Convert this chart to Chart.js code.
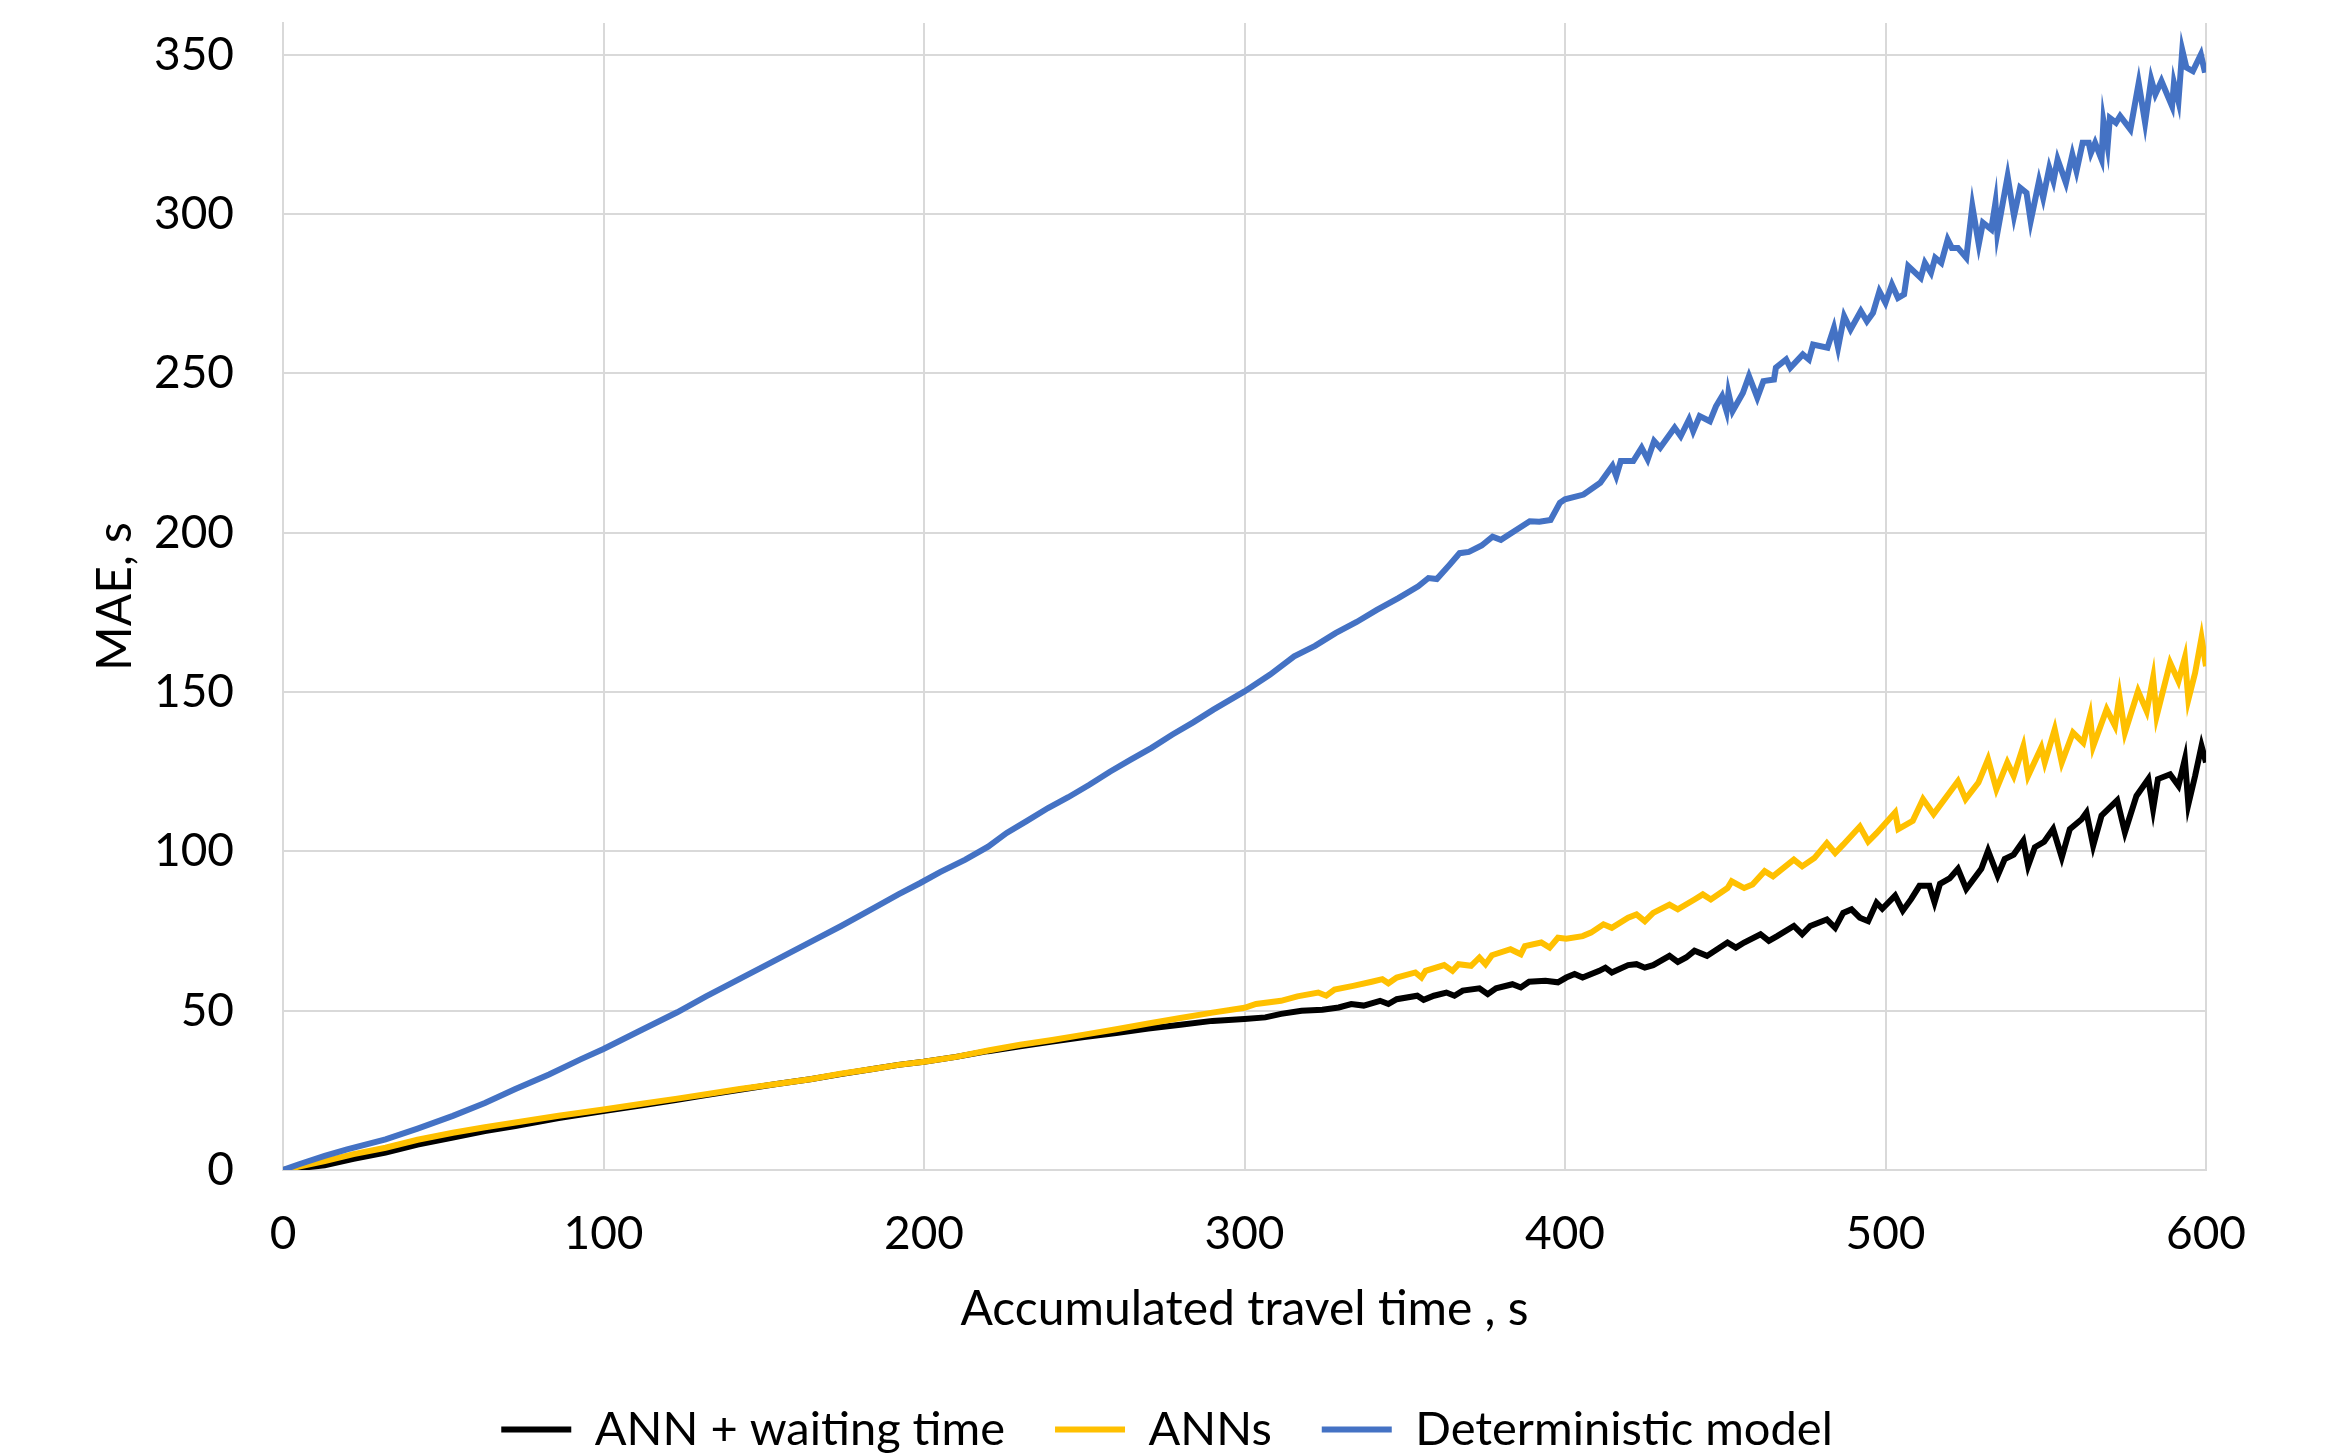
<!DOCTYPE html>
<html>
<head>
<meta charset="utf-8">
<script src="https://cdn.jsdelivr.net/npm/chart.js@4/dist/chart.umd.min.js"></script>
<style>
  html, body { margin: 0; padding: 0; background: #fff; }
  canvas { display: block; }
</style>
</head>
<body>
<canvas id="chart" width="2334" height="1455"></canvas>
<script>
// ==============================
// Data
// ==============================
const xTicks = [0, 100, 200, 300, 400, 500, 600];
const yTicks = [0, 50, 100, 150, 200, 250, 300, 350];
const seriesNames = ["ANN + waiting time", "ANNs", "Deterministic model"];

// ANN + waiting time (black)
const blackX = [
  0, 13, 22, 32, 42, 53, 63, 72.5, 86, 100,
  112, 123, 132, 142.5, 154, 164.5, 174, 184, 192, 200,
  210, 220, 230, 240, 250, 260, 270, 280, 290, 300,
  306.5, 311.4, 317.8, 324.3, 329.4, 333.3, 337.2, 342.3, 344.9, 347.5,
  353.9, 355.9, 359.1, 363, 365.5, 368.1, 373.3, 375.9, 378.5, 383.6,
  386.2, 388.8, 393.9, 397.8, 400.4, 403, 405.5, 410.7, 412.6, 414.6,
  419.7, 422.3, 424.9, 427.5, 432.6, 435.2, 437.8, 440.4, 444.3, 450.7,
  453.3, 455.9, 461, 463.6, 466.2, 471.4, 474, 476.5, 481.7, 484.3,
  486.8, 489.4, 492, 494.6, 497.2, 499, 503,
  505.4, 508, 510.6, 513.7, 515.3, 517, 520, 522.6, 525.2, 529.9,
  532, 535, 537.2, 540, 543, 544.5, 546.6, 549.5, 552.3, 555,
  557.5, 561.2, 562.7, 564.8, 567.4, 572.3, 574.7, 578.3, 582, 583.5,
  585, 588.8, 591.4, 593.4, 594.5, 596.6, 598.6, 600
];
const blackY = [
  0, 1.5, 3.5, 5.5, 8, 10.2, 12.2, 13.8, 16.3, 18.5,
  20.3, 22, 23.5, 25.2, 27, 28.5, 30.1, 31.7, 33, 34,
  35.5, 37.3, 38.8, 40.3, 41.7, 43, 44.4, 45.6, 46.8, 47.4,
  47.9, 49, 50, 50.3, 51, 52.1, 51.6, 53.1, 52.1, 53.6,
  54.7, 53.4, 54.7, 55.7, 54.7, 56.3, 57, 55.2, 57, 58.3,
  57.3, 59.1, 59.4, 58.9, 60.4, 61.5, 60.4, 62.5, 63.5, 62,
  64.3, 64.6, 63.5, 64.3, 67.2, 65.3, 66.7, 68.8, 67.2, 71.4,
  69.8, 71.4, 74, 71.9, 73.4, 76.6, 74, 76.6, 78.6, 76,
  80.7, 81.8, 79.2, 78.1, 83.9, 82, 86.1,
  81.4, 85, 89.2, 89.2, 84, 89.8, 91.5, 94.5, 88.2, 94.5,
  100.2, 92.4, 97.6, 99, 103.3, 95.5, 101.3, 103, 107, 98.1,
  107, 110.1, 112.2, 101.8, 111.2, 116, 106, 117.4, 122.7, 113.3,
  122.7, 124.2, 120.6, 128.9, 114.8, 123.7, 133.1, 127.9
];

// ANNs (yellow)
const yellowX = [
  0, 13, 22, 32, 42, 53, 63, 72.5, 86, 100,
  112, 123, 132, 142.5, 154, 164.5, 174, 184, 192, 200,
  210, 220, 230, 240, 250, 260, 270, 280, 290, 300,
  303.6, 311.4, 316.5, 323, 325.5, 328.1, 333.9, 339.7, 343, 344.9,
  347.5, 353.3, 355.2, 356.5, 362.3, 364.9, 366.8, 370.7, 373.3, 375.2,
  377.2, 383, 386.2, 387.5, 392.6, 395.2, 397.8, 400.4, 405.5, 408.1,
  412, 414.6, 419.7, 422.3, 424.9, 427.5, 432.6, 435.2, 440.4, 443,
  445.5, 450.7, 452, 455.9, 458.5, 462.3, 464.9, 467.5, 471.4, 474,
  477.8, 481.7, 484.3, 486.8, 492, 494.6, 497.2,
  503, 504, 508.5, 511.7, 515, 520, 522.6, 525, 529, 532,
  534.6, 538, 540, 543, 544.5, 548.6, 549.7, 552.8, 555, 558.5,
  561.7, 563.8, 564.8, 569, 571.6, 573, 574.7, 578.8, 581.5, 583.5,
  584.6, 588.8, 591.4, 593.4, 594.5, 596.6, 598.6, 600
];
const yellowY = [
  0, 2.8, 5, 7, 9.5, 11.7, 13.4, 14.9, 17, 19,
  20.8, 22.4, 23.8, 25.4, 27, 28.5, 30.2, 31.7, 33, 34,
  35.5, 37.5, 39.3, 40.8, 42.5, 44.2, 46, 47.7, 49.4, 50.9,
  52.1, 53.1, 54.5, 55.7, 54.7, 56.6, 57.8, 59.1, 59.9, 58.6,
  60.4, 62, 60.4, 62.5, 64.3, 62.5, 64.6, 64.1, 66.7, 64.6,
  67.4, 69.3, 67.7, 70.3, 71.4, 69.8, 72.9, 72.6, 73.4, 74.5,
  77.1, 76, 79.2, 80.2, 78.1, 80.7, 83.3, 81.8, 84.9, 86.5,
  84.9, 88.5, 90.6, 88.5, 89.6, 93.8, 92.2, 94.3, 97.4, 95.3,
  97.9, 102.6, 99.5, 102.1, 107.8, 103.1, 105.7,
  112.2, 107, 109.6, 116.4, 111.7, 118.5, 122, 116.4, 121.6, 128.9,
  119.5, 127.9, 123.7, 133, 123.7, 132.6, 127.9, 138.3, 127.9, 137.3,
  134.1, 142.5, 133, 144.6, 139.4, 148.7, 137.3, 150.3, 144, 154.5,
  142.5, 159.2, 153.4, 160.8, 147.7, 156, 167, 158.1
];

// Deterministic model (blue)
const blueX = [
  0, 5, 13, 20, 32, 42, 53, 63, 72.5, 83,
  93, 100, 112, 123, 132, 142.5, 153, 164.5, 174, 184,
  192, 198.7, 205, 212.9, 220, 225.8, 232, 238.7, 245, 251.6,
  258, 264.5, 271, 277.4, 284, 290.3, 300, 308, 315.5, 322,
  328.4, 335, 341.3, 348, 354.2, 357.4, 360, 364, 367.1, 370,
  374, 377.4, 380, 385, 389, 392, 395.5, 398.4, 400, 405.8,
  411, 414.8, 416, 417.4, 421.3, 423.9, 425.8, 427.8, 429.7, 434.2,
  436.1, 438.7, 440, 442, 445.2, 447.1, 449, 450.4, 451, 452.3,
  455.5, 457.4, 460, 461.9, 465.2, 465.8, 469, 470.3, 474.2, 476.1,
  477.4, 481.9, 483.9, 485.2, 487.1, 489.1, 492.3, 494.2, 496.1, 498.1,
  500, 502, 503.9, 505.8, 507.1, 511, 512.3, 514.2, 515.5, 517.4,
  519.4, 520.7, 522.6, 525.2, 527.1, 529.1, 530.4, 533, 534.3, 534.9,
  538.1, 540.1, 542, 544, 545.3, 547.9, 549.2, 551.1, 552.4, 553.7,
  556.3, 558.3, 559.6, 561.5, 563.4, 564.1, 565.4, 567.4, 568, 569.3,
  570, 571.9, 573.2, 576.4, 579, 581, 582.9, 584.2, 586.1, 589.4,
  590, 591.4, 592.6, 593.9, 595.9, 598.4, 599.7
];
const blueY = [
  0, 1.8, 4.4, 6.5, 9.6, 13, 17, 21, 25.4, 30,
  34.8, 38, 44, 49.5, 54.5, 60, 65.5, 71.5, 76.5, 82,
  86.5, 90, 93.5, 97.4, 101.5, 105.8, 109.5, 113.6, 117, 120.9,
  125, 128.8, 132.5, 136.6, 140.5, 144.5, 150.2, 155.5, 161.2, 164.5,
  168.5, 172, 175.8, 179.5, 183.2, 185.8, 185.5, 190, 193.6, 194,
  196, 198.8, 197.8, 201, 203.6, 203.5, 204, 209.4, 210.5, 212,
  215.7, 221, 217.8, 222.5, 222.5, 226.7, 223, 228.8, 226.7, 233,
  230.3, 235.6, 231.9, 236.6, 235, 239.7, 242.9, 238.2, 243.9, 238.2,
  243.9, 249.2, 242.4, 247.6, 248.1, 251.8, 254.4, 251.8, 256, 254.4,
  259.1, 258.1, 264.3, 258.1, 268, 263.8, 269.6, 266.4, 269, 275.8,
  272.2, 277.9, 273.7, 274.8, 283.7, 280, 284.7, 281.6, 286.3, 284.7,
  292, 289.4, 289.4, 286.3, 302.5, 290.5, 297.3, 295.2, 303.6, 294.1,
  311.9, 299.4, 308.3, 306.7, 297.8, 310.4, 305.1, 314.5, 310.4, 317.2,
  309.8, 318.7, 313.5, 322.4, 322.4, 319.2, 322.4, 317.2, 329.2, 321.3,
  330.2, 328.7, 330.8, 326.6, 341.2, 328.7, 342.3, 337.6, 341.8, 333.9,
  341.2, 335.4, 351.5, 346, 344.9, 350.1, 344.4
];

// helper to pair x and y lists for the linear x axis
function toPoints(xs, ys) {
  return xs.map((x, i) => ({ x: x, y: ys[i] }));
}

// ==============================
// Chart setup
// ==============================
const FONT = "Lato";
const GRID = "#d9d9d9";

// keep the legend a fixed height so the plot area lands where the original is
const legendHeightPlugin = {
  id: "legendHeight",
  beforeLayout(chart) {
    const lg = chart.legend;
    if (lg && !lg._fixed) {
      const fit = lg.fit.bind(lg);
      lg.fit = function () {
        fit();
        this.height = 99;
      };
      lg._fixed = true;
    }
  }
};

const ctx = document.getElementById("chart").getContext("2d");
new Chart(ctx, {
  type: "line",
  data: {
    datasets: [
      {
        label: seriesNames[0],
        data: toPoints(blackX, blackY),
        borderColor: "#000000",
        backgroundColor: "#000000",
        borderWidth: 6,
        pointRadius: 0,
        tension: 0,
        order: 3
      },
      {
        label: seriesNames[1],
        data: toPoints(yellowX, yellowY),
        borderColor: "#FFC000",
        backgroundColor: "#FFC000",
        borderWidth: 6,
        pointRadius: 0,
        tension: 0,
        order: 2
      },
      {
        label: seriesNames[2],
        data: toPoints(blueX, blueY),
        borderColor: "#4472C4",
        backgroundColor: "#4472C4",
        borderWidth: 6,
        pointRadius: 0,
        tension: 0,
        order: 1
      }
    ]
  },
  options: {
    responsive: false,
    animation: false,
    devicePixelRatio: 1,
    layout: { padding: { top: 23, right: 0, left: 0, bottom: 0 } },
    plugins: {
      tooltip: { enabled: false },
      legend: {
        position: "bottom",
        labels: {
          usePointStyle: true,
          pointStyle: "line",
          pointStyleWidth: 70,
          padding: 50,
          color: "#000",
          font: { family: FONT, size: 47 },
          sort: (a, b) => a.datasetIndex - b.datasetIndex
        }
      }
    },
    scales: {
      x: {
        type: "linear",
        min: 0,
        max: 600,
        afterBuildTicks: (s) => { s.ticks = xTicks.map((v) => ({ value: v })); },
        afterFit: (s) => {
          s.height = 186;
          s.paddingLeft = 0;
          s.paddingRight = 128;
        },
        ticks: { color: "#000", padding: 37, font: { family: FONT, size: 46 } },
        grid: { color: GRID, lineWidth: 2, drawTicks: false },
        border: { color: GRID, width: 2 },
        title: {
          display: true,
          text: "Accumulated travel time , s",
          color: "#000",
          font: { family: FONT, size: 48 },
          padding: { top: 0, bottom: 18 }
        }
      },
      y: {
        type: "linear",
        min: 0,
        max: 360,
        afterBuildTicks: (s) => { s.ticks = yTicks.map((v) => ({ value: v })); },
        afterFit: (s) => {
          s.width = 283;
          s.paddingTop = 0;
          s.paddingBottom = 0;
        },
        ticks: { color: "#000", padding: 49, font: { family: FONT, size: 46 } },
        grid: { color: GRID, lineWidth: 2, drawTicks: false },
        border: { color: GRID, width: 2 },
        title: {
          display: true,
          text: "MAE, s",
          color: "#000",
          font: { family: FONT, size: 48 },
          padding: { top: 87, bottom: 0 }
        }
      }
    }
  },
  plugins: [legendHeightPlugin]
});
</script>
</body>
</html>
